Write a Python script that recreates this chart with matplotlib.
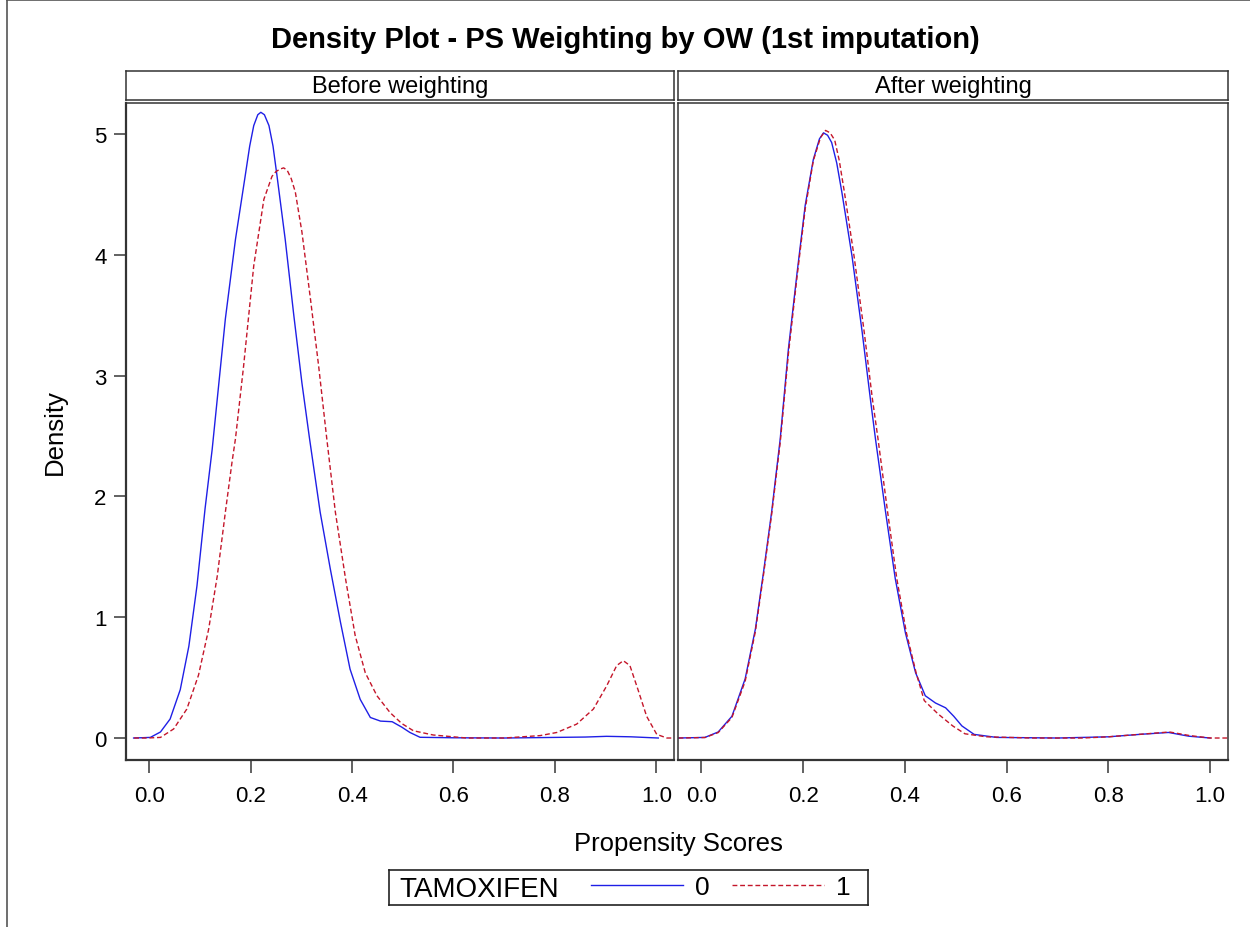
import matplotlib
matplotlib.use("Agg")
import matplotlib.pyplot as plt
from matplotlib.lines import Line2D

plt.rcParams['font.family'] = ['Liberation Sans', 'DejaVu Sans']

# ---------------- data ----------------
title = "Density Plot - PS Weighting by OW (1st imputation)"
panel_labels = ["Before weighting", "After weighting"]
legend_title = "TAMOXIFEN"
group_labels = ["0", "1"]
x_ticks = [0.0, 0.2, 0.4, 0.6, 0.8, 1.0]
x_ticklabels = ["0.0", "0.2", "0.4", "0.6", "0.8", "1.0"]
y_ticks = [0, 1, 2, 3, 4, 5]

before_x0 = [-0.031, 0.002, 0.022, 0.041, 0.061, 0.078, 0.094, 0.110, 0.124, 0.150,
             0.170, 0.189, 0.198, 0.206, 0.214, 0.220, 0.227, 0.236, 0.244, 0.252,
             0.268, 0.285, 0.301, 0.316, 0.337, 0.357, 0.377, 0.396, 0.416, 0.436,
             0.456, 0.479, 0.498, 0.514, 0.534, 0.60, 0.70, 0.80, 0.86, 0.902,
             0.95, 1.004]
before_y0 = [0.0, 0.005, 0.05, 0.157, 0.40, 0.76, 1.26, 1.90, 2.39, 3.47,
             4.13, 4.65, 4.90, 5.07, 5.16, 5.18, 5.16, 5.07, 4.90, 4.65,
             4.13, 3.50, 2.94, 2.48, 1.87, 1.40, 0.96, 0.57, 0.32, 0.17,
             0.14, 0.135, 0.09, 0.046, 0.006, 0.002, 0.0, 0.005, 0.008, 0.014,
             0.01, 0.0]

before_x1 = [-0.03, -0.005, 0.022, 0.048, 0.074, 0.097, 0.117, 0.134, 0.150, 0.163,
             0.170, 0.186, 0.206, 0.226, 0.242, 0.250, 0.258, 0.265, 0.272, 0.280,
             0.288, 0.301, 0.318, 0.334, 0.350, 0.367, 0.387, 0.406, 0.426, 0.449,
             0.475, 0.498, 0.521, 0.560, 0.626, 0.70, 0.771, 0.804, 0.843, 0.876,
             0.902, 0.922, 0.935, 0.948, 0.964, 0.981, 1.001, 1.021, 1.037]
before_y1 = [0.0, 0.0, 0.005, 0.075, 0.24, 0.52, 0.90, 1.34, 1.87, 2.28,
             2.48, 3.08, 3.91, 4.46, 4.65, 4.69, 4.71, 4.72, 4.70, 4.63,
             4.52, 4.19, 3.63, 3.08, 2.48, 1.87, 1.32, 0.85, 0.54, 0.35,
             0.21, 0.12, 0.06, 0.025, 0.0, 0.0, 0.02, 0.046, 0.115, 0.24,
             0.43, 0.60, 0.64, 0.60, 0.40, 0.18, 0.03, 0.0, 0.0]

after_x0 = [-0.045, 0.007, 0.033, 0.060, 0.086, 0.106, 0.122, 0.138, 0.155, 0.171,
            0.188, 0.204, 0.220, 0.232, 0.240, 0.248, 0.256, 0.266, 0.276, 0.296,
            0.316, 0.332, 0.342, 0.362, 0.381, 0.401, 0.421, 0.440, 0.460, 0.480,
            0.496, 0.512, 0.536, 0.58, 0.70, 0.80, 0.861, 0.918, 0.958, 1.0]
after_y0 = [0.0, 0.005, 0.05, 0.18, 0.49, 0.90, 1.37, 1.87, 2.48, 3.22,
            3.85, 4.41, 4.79, 4.96, 5.01, 4.99, 4.93, 4.76, 4.52, 3.99,
            3.36, 2.81, 2.48, 1.87, 1.32, 0.87, 0.54, 0.35, 0.29, 0.25,
            0.18, 0.10, 0.03, 0.005, 0.0, 0.01, 0.03, 0.046, 0.015, 0.0]

after_x1 = [-0.045, 0.007, 0.033, 0.060, 0.086, 0.106, 0.122, 0.138, 0.155, 0.171,
            0.188, 0.204, 0.220, 0.234, 0.244, 0.253, 0.262, 0.271, 0.281, 0.300,
            0.320, 0.336, 0.347, 0.366, 0.384, 0.403, 0.422, 0.438, 0.465, 0.494,
            0.518, 0.56, 0.65, 0.75, 0.80, 0.86, 0.92, 0.96, 1.0, 1.037]
after_y1 = [0.0, 0.004, 0.045, 0.17, 0.47, 0.88, 1.35, 1.85, 2.45, 3.18,
            3.82, 4.38, 4.78, 4.97, 5.03, 5.01, 4.95, 4.78, 4.52, 3.99,
            3.36, 2.81, 2.48, 1.87, 1.32, 0.87, 0.54, 0.31, 0.20, 0.10,
            0.035, 0.01, 0.0, 0.0, 0.01, 0.03, 0.05, 0.02, 0.0, 0.0]

# ---------------- layout helpers (pixels -> figure fraction) ----------------
W, H = 1250, 928
def fx(p):
    return p / W
def fy(p):
    return 1 - p / H

BLUE = "#1f1fe6"
RED = "#c4162a"
FRAME = "#333333"

fig = plt.figure(figsize=(12.5, 9.28), dpi=100)

# outer border (left and top visible in the reference)
fig.add_artist(Line2D([fx(7), fx(7)], [0, fy(1)], color="#555555", lw=1.2))
fig.add_artist(Line2D([fx(7), 1], [fy(1), fy(1)], color="#555555", lw=1.2))

ax_top, ax_bot = 104, 761
strip_top, strip_bot = 72, 101
panels = [(126, 674), (678, 1228)]
xlim = (-0.046, 1.035)
ylim = (-0.182, 5.257)

data = [((before_x0, before_y0), (before_x1, before_y1)),
        ((after_x0, after_y0), (after_x1, after_y1))]

axes = []
for i, (l, r) in enumerate(panels):
    ax = fig.add_axes([fx(l), fy(ax_bot), fx(r) - fx(l), fy(ax_top) - fy(ax_bot)])
    (x0, y0), (x1, y1) = data[i]
    ln0, = ax.plot(x0, y0, color=BLUE, lw=1.0, label=group_labels[0])
    ln1, = ax.plot(x1, y1, color=RED, lw=1.0, linestyle=(0, (3.5, 2.0)), label=group_labels[1])
    ax.set_xlim(*xlim)
    ax.set_ylim(*ylim)
    ax.set_xticks(x_ticks)
    ax.set_xticklabels(x_ticklabels)
    ax.tick_params(axis="x", direction="out", length=9, width=1.3, color="#555555",
                   labelsize=16, pad=9)
    if i == 0:
        ax.set_yticks(y_ticks)
        ax.tick_params(axis="y", direction="out", length=9, width=1.3, color="#555555",
                       labelsize=16, pad=5)
    else:
        ax.set_yticks([])
    for s in ax.spines.values():
        s.set_color(FRAME)
        s.set_linewidth(1.1)
    ax.spines["bottom"].set_linewidth(1.6)
    if i == 0:
        ax.spines["left"].set_linewidth(1.6)
    axes.append((ax, ln0, ln1))

    sax = fig.add_axes([fx(l), fy(strip_bot), fx(r) - fx(l), fy(strip_top) - fy(strip_bot)])
    sax.set_xticks([])
    sax.set_yticks([])
    for s in sax.spines.values():
        s.set_color(FRAME)
        s.set_linewidth(1.1)
    sax.text(0.5, 0.47, panel_labels[i], ha="center", va="center", fontsize=17,
             transform=sax.transAxes)

fig.text(0.5, fy(40), title, ha="center", va="center", fontsize=21, fontweight="bold")
fig.text(fx(55), fy(432), "Density", ha="center", va="center", rotation=90, fontsize=18.5)
fig.text(fx(678), fy(844), "Propensity Scores", ha="center", va="center", fontsize=18.5)

# legend box
lg_l, lg_r, lg_t, lg_b = 389, 868, 871, 906
lax = fig.add_axes([fx(lg_l), fy(lg_b), fx(lg_r) - fx(lg_l), fy(lg_t) - fy(lg_b)])
lax.set_xticks([])
lax.set_yticks([])
for s in lax.spines.values():
    s.set_color("#222222")
    s.set_linewidth(1.2)
lax.text(0.022, 0.47, legend_title, ha="left", va="center", fontsize=20,
         transform=lax.transAxes)
_, h0, h1 = axes[0]
lax.legend(handles=[h0, h1], labels=group_labels, ncol=2, loc="center right",
           frameon=False, fontsize=19, handlelength=3.5, handletextpad=0.45,
           columnspacing=0.85, borderaxespad=0.25)

fig.savefig("out.png", dpi=100)
